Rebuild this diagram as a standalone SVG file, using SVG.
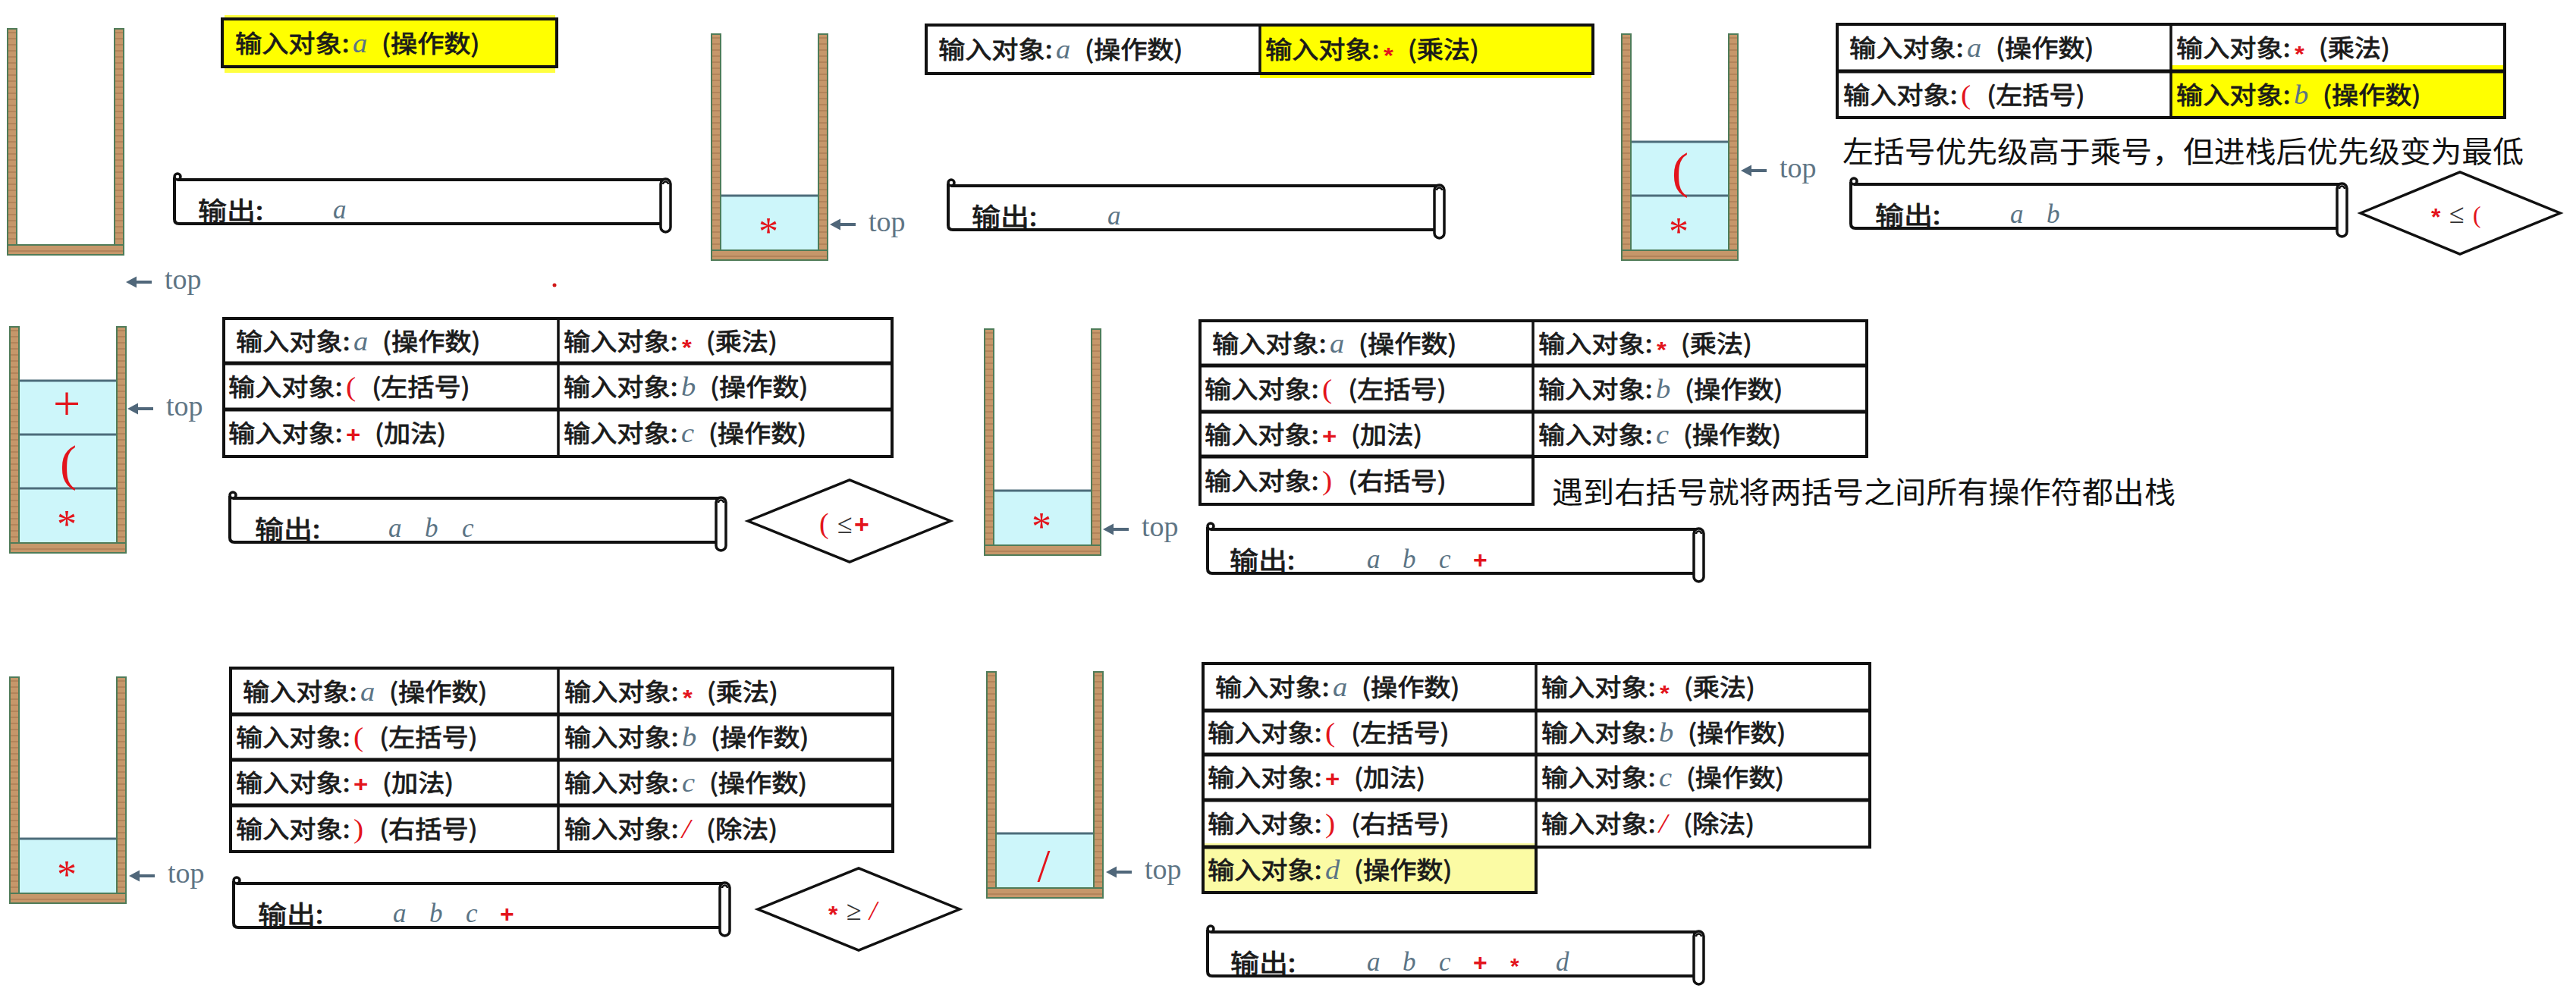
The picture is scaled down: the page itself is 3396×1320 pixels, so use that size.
<svg xmlns="http://www.w3.org/2000/svg" width="3396" height="1320" viewBox="0 0 3396 1320">
<style>
.ct{font-family:"Noto Sans CJK SC","Noto Sans",sans-serif;font-size:32px;fill:#1a1a1a;stroke:#1a1a1a;stroke-width:0.8px}
.v{font-family:"Liberation Serif",serif;font-style:italic;font-size:35px;fill:#5b7485;stroke:none}
.rs{font-family:"Liberation Serif",serif;font-size:36px;fill:#e3141c;stroke:none}
.ri{font-family:"Liberation Serif",serif;font-style:italic;font-size:36px;fill:#e3141c;stroke:none}
.rb{font-family:"Liberation Sans",sans-serif;font-weight:bold;font-size:30px;fill:#e3141c;stroke:none}
.oc{font-family:"Noto Sans CJK SC",sans-serif;font-size:33px;fill:#1a1a1a;stroke:#1a1a1a;stroke-width:0.8px}
.ov{font-family:"Liberation Serif",serif;font-style:italic;font-size:35px;fill:#5b7485}
.ann{font-family:"Noto Sans CJK SC",sans-serif;font-size:39px;fill:#111}
.tp{font-family:"Liberation Serif",serif;font-size:38px;fill:#5f7585}
.sk{font-family:"Liberation Serif",serif;fill:#e3141c;text-anchor:middle}
.dk{font-family:"Liberation Serif",serif;font-size:36px;fill:#333;stroke:none}
.tb{fill:none;stroke:#111;stroke-width:4}
.hl{stroke:#111;stroke-width:5}
.vl{stroke:#111;stroke-width:3.5}
.cell{fill:#cdf6fa}
.cl{stroke:#4d6c7a;stroke-width:3}
.dia{fill:#fff;stroke:#111;stroke-width:3.5}
.ptr{stroke:#50677a;stroke-width:4;fill:none}
.ptrh{fill:#50677a}
.scr{fill:none;stroke:#111;stroke-width:4}
.scrw{fill:#fff;stroke:#111;stroke-width:3.5}
.wd{fill:url(#wood);stroke:#4f7c59;stroke-width:2}
</style>
<defs>
<pattern id="wood" width="9" height="8" patternUnits="userSpaceOnUse"><rect width="9" height="8" fill="#c6976a"/><rect y="5" width="9" height="2" fill="#b3845a"/></pattern>
<g id="stack">
<rect class="wd" x="1" y="1" width="12" height="298"/>
<rect class="wd" x="142" y="1" width="12" height="298"/>
<rect class="wd" x="1" y="286" width="153" height="13"/>
</g>
<g id="scroll">
<path class="scr" d="M0,-3 V52 Q0,58 6,58 H643"/>
<path class="scr" d="M4,0 H648"/>
<circle class="scrw" cx="4" cy="-4" r="4"/>
<rect class="scrw" x="641" y="-1" width="13" height="70" rx="6.5"/>
<path class="scr" style="stroke-width:2.5" d="M644,6 a3.5,3.5 0 1 1 7,0"/>
</g>
<g id="ptr"><path class="ptr" d="M34,0 H11"/><polygon class="ptrh" points="0,0 14,-7.5 14,7.5"/></g>
</defs>
<rect width="3396" height="1320" fill="#fff"/>

<!-- Panel 1 -->
<g id="stack1" transform="translate(9,37)"><use href="#stack"/></g>
<g id="top1"><use href="#ptr" x="166" y="372"/><text class="tp" x="217" y="381">top</text></g>
<g id="input1">
<rect x="296" y="20" width="436" height="76" fill="#ffff40"/>
<rect x="293" y="25" width="441" height="63" fill="#ffff00" stroke="#111" stroke-width="4"/>
<text class="ct" transform="translate(310,69) scale(1.1,1)">输入对象:<tspan class="v" dx="4">a</tspan><tspan dx="10"> (操作数)</tspan></text>
</g>
<g id="output1"><use href="#scroll" x="230" y="237"/>
<text class="oc" transform="translate(261,290) scale(1.15,1)">输出:</text>
<text class="ov" x="439" y="288">a</text></g>
<circle cx="731" cy="376" r="2.5" fill="#d01818"/>

<!-- Panel 2 -->
<g id="stack2" transform="translate(937,44)"><use href="#stack"/>
<rect class="cell" x="14" y="214" width="127" height="71"/><line class="cl" x1="14" y1="214" x2="141" y2="214"/>
<text class="sk" x="76" y="279" font-size="52">*</text></g>
<g id="top2"><use href="#ptr" x="1094" y="296"/><text class="tp" x="1145" y="305">top</text></g>
<g id="table2">
<rect x="1661" y="33" width="437" height="70" fill="#ffff00"/>
<rect class="tb" x="1221" y="33" width="879" height="64"/>
<line class="vl" x1="1661" y1="33" x2="1661" y2="97"/>
<text class="ct" transform="translate(1237,77) scale(1.1,1)">输入对象:<tspan class="v" dx="4">a</tspan><tspan dx="10"> (操作数)</tspan></text>
<text class="ct" transform="translate(1668,77) scale(1.1,1)">输入对象:<tspan class="rb" dx="5" dy="6">*</tspan><tspan dx="10" dy="-6"> (乘法)</tspan></text>
</g>
<g id="output2"><use href="#scroll" x="1250" y="245"/>
<text class="oc" transform="translate(1281,298) scale(1.15,1)">输出:</text>
<text class="ov" x="1460" y="296">a</text></g>

<!-- Panel 3 -->
<g id="stack3" transform="translate(2137,44)"><use href="#stack"/>
<rect class="cell" x="14" y="143" width="127" height="142"/>
<line class="cl" x1="14" y1="143" x2="141" y2="143"/><line class="cl" x1="14" y1="214" x2="141" y2="214"/>
<text class="sk" x="78" y="203" font-size="66">(</text>
<text class="sk" x="76" y="279" font-size="52">*</text></g>
<g id="top3"><use href="#ptr" x="2295" y="225"/><text class="tp" x="2346" y="234">top</text></g>
<g id="table3">
<rect x="2862" y="86" width="438" height="71" fill="#ffff00"/>
<rect class="tb" x="2422" y="32" width="880" height="123"/>
<line class="hl" x1="2422" y1="94" x2="3302" y2="94"/>
<line class="vl" x1="2862" y1="32" x2="2862" y2="155"/>
<text class="ct" transform="translate(2438,75) scale(1.1,1)">输入对象:<tspan class="v" dx="4">a</tspan><tspan dx="10"> (操作数)</tspan></text>
<text class="ct" transform="translate(2869,75) scale(1.1,1)">输入对象:<tspan class="rb" dx="5" dy="6">*</tspan><tspan dx="10" dy="-6"> (乘法)</tspan></text>
<text class="ct" transform="translate(2430,137) scale(1.1,1)">输入对象:<tspan class="rs" dx="4">(</tspan><tspan dx="12"> (左括号)</tspan></text>
<text class="ct" transform="translate(2869,137) scale(1.1,1)">输入对象:<tspan class="v" dx="4">b</tspan><tspan dx="10"> (操作数)</tspan></text>
</g>
<text id="note3" class="ann" x="2429" y="214" textLength="898" lengthAdjust="spacingAndGlyphs">左括号优先级高于乘号，但进栈后优先级变为最低</text>
<g id="output3"><use href="#scroll" x="2440" y="243"/>
<text class="oc" transform="translate(2472,296) scale(1.15,1)">输出:</text>
<text class="ov" x="2650" y="294">a</text><text class="ov" x="2698" y="294">b</text></g>
<g id="cmp3"><polygon class="dia" points="3112,281 3243,227 3375,281 3243,335"/>
<text y="294"><tspan class="rb" x="3205" dy="3" style="font-size:32px">*</tspan><tspan class="dk" x="3229" dy="-3">≤</tspan><tspan class="rs" x="3260" style="font-size:32px">(</tspan></text></g>

<!-- Panel 4 -->
<g id="stack4" transform="translate(12,430)"><use href="#stack"/>
<rect class="cell" x="14" y="72" width="127" height="213"/>
<line class="cl" x1="14" y1="72" x2="141" y2="72"/><line class="cl" x1="14" y1="143" x2="141" y2="143"/><line class="cl" x1="14" y1="214" x2="141" y2="214"/>
<text class="sk" x="76" y="124" font-size="64">+</text>
<text class="sk" x="78" y="203" font-size="66">(</text>
<text class="sk" x="76" y="279" font-size="52">*</text></g>
<g id="top4"><use href="#ptr" x="168" y="539"/><text class="tp" x="219" y="548">top</text></g>
<g id="table4">
<rect class="tb" x="295" y="420" width="881" height="182"/>
<line class="hl" x1="295" y1="479" x2="1176" y2="479"/><line class="hl" x1="295" y1="540" x2="1176" y2="540"/>
<line class="vl" x1="736" y1="420" x2="736" y2="602"/>
<text class="ct" transform="translate(311,462) scale(1.1,1)">输入对象:<tspan class="v" dx="4">a</tspan><tspan dx="10"> (操作数)</tspan></text>
<text class="ct" transform="translate(743,462) scale(1.1,1)">输入对象:<tspan class="rb" dx="5" dy="6">*</tspan><tspan dx="10" dy="-6"> (乘法)</tspan></text>
<text class="ct" transform="translate(301,522) scale(1.1,1)">输入对象:<tspan class="rs" dx="4">(</tspan><tspan dx="12"> (左括号)</tspan></text>
<text class="ct" transform="translate(743,522) scale(1.1,1)">输入对象:<tspan class="v" dx="4">b</tspan><tspan dx="10"> (操作数)</tspan></text>
<text class="ct" transform="translate(301,583) scale(1.1,1)">输入对象:<tspan class="rb" dx="4">+</tspan><tspan dx="10"> (加法)</tspan></text>
<text class="ct" transform="translate(743,583) scale(1.1,1)">输入对象:<tspan class="v" dx="4">c</tspan><tspan dx="10"> (操作数)</tspan></text>
</g>
<g id="output4"><use href="#scroll" x="303" y="657"/>
<text class="oc" transform="translate(336,710) scale(1.15,1)">输出:</text>
<text class="ov" x="512" y="708">a</text><text class="ov" x="560" y="708">b</text><text class="ov" x="609" y="708">c</text></g>
<g id="cmp4"><polygon class="dia" points="986,687 1120,633 1253,687 1120,741"/>
<text y="703"><tspan class="rs" x="1080" style="font-size:38px">(</tspan><tspan class="dk" x="1104">≤</tspan><tspan class="rb" x="1126" style="font-size:34px">+</tspan></text></g>

<!-- Panel 5 -->
<g id="stack5" transform="translate(1297,433)"><use href="#stack"/>
<rect class="cell" x="14" y="214" width="127" height="71"/><line class="cl" x1="14" y1="214" x2="141" y2="214"/>
<text class="sk" x="76" y="279" font-size="52">*</text></g>
<g id="top5"><use href="#ptr" x="1454" y="698"/><text class="tp" x="1505" y="707">top</text></g>
<g id="table5">
<path class="tb" d="M1582,423 H2461 V602 H2021 V665 H1582 Z"/>
<line class="hl" x1="1582" y1="482" x2="2461" y2="482"/><line class="hl" x1="1582" y1="543" x2="2461" y2="543"/>
<line class="hl" x1="1582" y1="602" x2="2021" y2="602"/>
<line class="vl" x1="2021" y1="423" x2="2021" y2="602"/>
<text class="ct" transform="translate(1598,465) scale(1.1,1)">输入对象:<tspan class="v" dx="4">a</tspan><tspan dx="10"> (操作数)</tspan></text>
<text class="ct" transform="translate(2028,465) scale(1.1,1)">输入对象:<tspan class="rb" dx="5" dy="6">*</tspan><tspan dx="10" dy="-6"> (乘法)</tspan></text>
<text class="ct" transform="translate(1588,525) scale(1.1,1)">输入对象:<tspan class="rs" dx="4">(</tspan><tspan dx="12"> (左括号)</tspan></text>
<text class="ct" transform="translate(2028,525) scale(1.1,1)">输入对象:<tspan class="v" dx="4">b</tspan><tspan dx="10"> (操作数)</tspan></text>
<text class="ct" transform="translate(1588,585) scale(1.1,1)">输入对象:<tspan class="rb" dx="4">+</tspan><tspan dx="10"> (加法)</tspan></text>
<text class="ct" transform="translate(2028,585) scale(1.1,1)">输入对象:<tspan class="v" dx="4">c</tspan><tspan dx="10"> (操作数)</tspan></text>
<text class="ct" transform="translate(1588,646) scale(1.1,1)">输入对象:<tspan class="rs" dx="4">)</tspan><tspan dx="12"> (右括号)</tspan></text>
</g>
<text id="note5" class="ann" x="2046" y="663" textLength="822" lengthAdjust="spacingAndGlyphs">遇到右括号就将两括号之间所有操作符都出栈</text>
<g id="output5"><use href="#scroll" x="1592" y="698"/>
<text class="oc" transform="translate(1621,751) scale(1.15,1)">输出:</text>
<text class="ov" x="1802" y="749">a</text><text class="ov" x="1849" y="749">b</text><text class="ov" x="1897" y="749">c</text>
<text class="rb" x="1942" y="749" style="font-size:32px">+</text></g>

<!-- Panel 6 -->
<g id="stack6" transform="translate(12,892)"><use href="#stack"/>
<rect class="cell" x="14" y="214" width="127" height="71"/><line class="cl" x1="14" y1="214" x2="141" y2="214"/>
<text class="sk" x="76" y="279" font-size="52">*</text></g>
<g id="top6"><use href="#ptr" x="170" y="1155"/><text class="tp" x="221" y="1164">top</text></g>
<g id="table6">
<rect class="tb" x="304" y="881" width="873" height="242"/>
<line class="hl" x1="304" y1="942" x2="1177" y2="942"/><line class="hl" x1="304" y1="1002" x2="1177" y2="1002"/><line class="hl" x1="304" y1="1062" x2="1177" y2="1062"/>
<line class="vl" x1="736" y1="881" x2="736" y2="1123"/>
<text class="ct" transform="translate(320,924) scale(1.1,1)">输入对象:<tspan class="v" dx="4">a</tspan><tspan dx="10"> (操作数)</tspan></text>
<text class="ct" transform="translate(744,924) scale(1.1,1)">输入对象:<tspan class="rb" dx="5" dy="6">*</tspan><tspan dx="10" dy="-6"> (乘法)</tspan></text>
<text class="ct" transform="translate(311,984) scale(1.1,1)">输入对象:<tspan class="rs" dx="4">(</tspan><tspan dx="12"> (左括号)</tspan></text>
<text class="ct" transform="translate(744,984) scale(1.1,1)">输入对象:<tspan class="v" dx="4">b</tspan><tspan dx="10"> (操作数)</tspan></text>
<text class="ct" transform="translate(311,1044) scale(1.1,1)">输入对象:<tspan class="rb" dx="4">+</tspan><tspan dx="10"> (加法)</tspan></text>
<text class="ct" transform="translate(744,1044) scale(1.1,1)">输入对象:<tspan class="v" dx="4">c</tspan><tspan dx="10"> (操作数)</tspan></text>
<text class="ct" transform="translate(311,1105) scale(1.1,1)">输入对象:<tspan class="rs" dx="4">)</tspan><tspan dx="12"> (右括号)</tspan></text>
<text class="ct" transform="translate(744,1105) scale(1.1,1)">输入对象:<tspan class="ri" dx="4">/</tspan><tspan dx="12"> (除法)</tspan></text>
</g>
<g id="output6"><use href="#scroll" x="308" y="1165"/>
<text class="oc" transform="translate(340,1218) scale(1.15,1)">输出:</text>
<text class="ov" x="518" y="1216">a</text><text class="ov" x="566" y="1216">b</text><text class="ov" x="614" y="1216">c</text>
<text class="rb" x="659" y="1216" style="font-size:32px">+</text></g>
<g id="cmp6"><polygon class="dia" points="999,1199 1132,1145 1265,1199 1132,1253"/>
<text y="1213"><tspan class="rb" x="1092" dy="4" style="font-size:32px">*</tspan><tspan class="dk" x="1116" dy="-4">≥</tspan><tspan class="ri" x="1146" style="font-size:36px">/</tspan></text></g>

<!-- Panel 7 -->
<g id="stack7" transform="translate(1300,885)"><use href="#stack"/>
<rect class="cell" x="14" y="214" width="127" height="71"/><line class="cl" x1="14" y1="214" x2="141" y2="214"/>
<text class="sk" x="76" y="277" font-size="61">/</text></g>
<g id="top7"><use href="#ptr" x="1458" y="1150"/><text class="tp" x="1509" y="1159">top</text></g>
<g id="table7">
<rect x="1586" y="1112" width="439" height="65" fill="#fbfba4"/>
<path class="tb" d="M1586,875 H2465 V1117 H2025 V1177 H1586 Z"/>
<line class="hl" x1="1586" y1="937" x2="2465" y2="937"/><line class="hl" x1="1586" y1="995" x2="2465" y2="995"/><line class="hl" x1="1586" y1="1055" x2="2465" y2="1055"/>
<line class="hl" x1="1586" y1="1117" x2="2025" y2="1117"/>
<line class="vl" x1="2025" y1="875" x2="2025" y2="1117"/>
<text class="ct" transform="translate(1602,918) scale(1.1,1)">输入对象:<tspan class="v" dx="4">a</tspan><tspan dx="10"> (操作数)</tspan></text>
<text class="ct" transform="translate(2032,918) scale(1.1,1)">输入对象:<tspan class="rb" dx="5" dy="6">*</tspan><tspan dx="10" dy="-6"> (乘法)</tspan></text>
<text class="ct" transform="translate(1592,978) scale(1.1,1)">输入对象:<tspan class="rs" dx="4">(</tspan><tspan dx="12"> (左括号)</tspan></text>
<text class="ct" transform="translate(2032,978) scale(1.1,1)">输入对象:<tspan class="v" dx="4">b</tspan><tspan dx="10"> (操作数)</tspan></text>
<text class="ct" transform="translate(1592,1037) scale(1.1,1)">输入对象:<tspan class="rb" dx="4">+</tspan><tspan dx="10"> (加法)</tspan></text>
<text class="ct" transform="translate(2032,1037) scale(1.1,1)">输入对象:<tspan class="v" dx="4">c</tspan><tspan dx="10"> (操作数)</tspan></text>
<text class="ct" transform="translate(1592,1098) scale(1.1,1)">输入对象:<tspan class="rs" dx="4">)</tspan><tspan dx="12"> (右括号)</tspan></text>
<text class="ct" transform="translate(2032,1098) scale(1.1,1)">输入对象:<tspan class="ri" dx="4">/</tspan><tspan dx="12"> (除法)</tspan></text>
<text class="ct" transform="translate(1592,1159) scale(1.1,1)">输入对象:<tspan class="v" dx="4">d</tspan><tspan dx="10"> (操作数)</tspan></text>
</g>
<g id="output7"><use href="#scroll" x="1592" y="1229"/>
<text class="oc" transform="translate(1622,1282) scale(1.15,1)">输出:</text>
<text class="ov" x="1802" y="1280">a</text><text class="ov" x="1849" y="1280">b</text><text class="ov" x="1897" y="1280">c</text>
<text class="rb" x="1942" y="1280" style="font-size:32px">+</text>
<text class="rb" x="1991" y="1284">*</text>
<text class="ov" x="2051" y="1280">d</text></g>
<g id="connectors"/>
</svg>
